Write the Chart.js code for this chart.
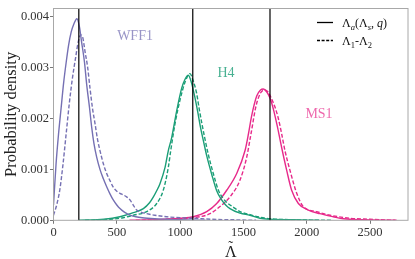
<!DOCTYPE html>
<html>
<head>
<meta charset="utf-8">
<script src="https://cdn.jsdelivr.net/npm/chart.js@4/dist/chart.umd.min.js"></script>
<style>
html,body{margin:0;padding:0;background:#fff;}
#wrap{width:415px;height:259px;position:relative;}
</style>
</head>
<body>
<div id="wrap"><canvas id="c" width="415" height="259"></canvas></div>
<script>
// ---- data ----
const xTicks = [0, 500, 1000, 1500, 2000, 2500];
const yTicks = [0, 0.001, 0.002, 0.003, 0.004];
const refLambda = [200, 1100, 1710];

const wff1SolidLambda  = [0, 20, 40, 60, 80, 100, 120, 140, 160, 185, 205, 222, 245, 262, 285, 302, 320, 341, 367, 393, 420, 446, 472, 500, 525, 560, 604, 650, 700, 800, 900, 1000, 1200];
const wff1SolidDensity = [0.0003, 0.0011, 0.0017, 0.0022, 0.0027, 0.0031, 0.00345, 0.0037, 0.00385, 0.00396, 0.0038, 0.0035, 0.0031, 0.00267, 0.0022, 0.00182, 0.0015, 0.00124, 0.001, 0.00082, 0.00066, 0.00052, 0.0004, 0.0003, 0.00023, 0.00016, 0.0001, 0.00007, 0.00005, 0.00003, 0.00002, 0.00001, 0];

const wff1DashLambda  = [0, 25, 50, 75, 100, 125, 150, 175, 195, 215, 230, 250, 270, 288, 308, 328, 347, 367, 395, 420, 446, 472, 500, 525, 550, 578, 604, 630, 657, 700, 736, 800, 894, 1000, 1104, 1250, 1420, 1600];
const wff1DashDensity = [0.0001, 0.0003, 0.0006, 0.0011, 0.0017, 0.0023, 0.0028, 0.0032, 0.0035, 0.00364, 0.0036, 0.0033, 0.003, 0.0026, 0.0022, 0.0019, 0.0016, 0.00137, 0.0011, 0.00092, 0.00078, 0.00065, 0.00057, 0.00053, 0.0005, 0.00046, 0.0004, 0.0003, 0.0002, 0.00015, 0.00013, 0.0001, 0.00007, 0.00005, 0.00004, 0.00002, 0.00001, 0];

const h4SolidLambda  = [200, 400, 525, 631, 710, 760, 789, 815, 841, 881, 907, 933, 973, 1013, 1039, 1065, 1090, 1118, 1140, 1160, 1185, 1210, 1250, 1289, 1328, 1360, 1394, 1473, 1552, 1631, 1710, 1900, 2100];
const h4SolidDensity = [0, 0.00002, 0.00007, 0.00015, 0.00023, 0.00035, 0.00046, 0.00058, 0.00072, 0.00104, 0.00137, 0.00162, 0.00215, 0.0026, 0.00277, 0.00285, 0.0027, 0.0024, 0.00212, 0.00184, 0.00155, 0.00127, 0.0009, 0.00058, 0.0004, 0.0003, 0.00023, 0.00014, 0.0001, 0.00004, 0.00002, 0.00001, 0];

const h4DashLambda  = [250, 450, 550, 631, 736, 815, 867, 907, 926, 960, 1000, 1040, 1078, 1102, 1130, 1150, 1172, 1196, 1222, 1262, 1301, 1340, 1374, 1420, 1473, 1552, 1631, 1710, 1900, 2200];
const h4DashDensity = [0, 0.00002, 0.00005, 0.0001, 0.00017, 0.00033, 0.00059, 0.00104, 0.00137, 0.0019, 0.00237, 0.00272, 0.00288, 0.00275, 0.0025, 0.0022, 0.0019, 0.0016, 0.0013, 0.00092, 0.0006, 0.00043, 0.00034, 0.00026, 0.00017, 0.00011, 0.00006, 0.00003, 0.00001, 0];

const ms1SolidLambda  = [600, 800, 1000, 1104, 1210, 1289, 1368, 1447, 1513, 1540, 1565, 1605, 1635, 1657, 1685, 1710, 1740, 1770, 1802, 1842, 1881, 1934, 2013, 2105, 2210, 2290, 2450, 2700];
const ms1SolidDensity = [0, 0.00001, 0.00004, 0.00007, 0.00017, 0.00033, 0.00059, 0.00092, 0.00137, 0.0017, 0.00205, 0.00244, 0.00256, 0.00258, 0.00252, 0.0024, 0.00215, 0.00182, 0.00143, 0.00098, 0.00059, 0.00033, 0.0002, 0.00013, 0.00007, 0.00003, 0.00001, 0];

const ms1DashLambda  = [650, 900, 1157, 1236, 1315, 1394, 1473, 1526, 1560, 1600, 1635, 1665, 1695, 1720, 1750, 1776, 1802, 1828, 1868, 1921, 1973, 2079, 2184, 2342, 2500, 2710];
const ms1DashDensity = [0, 0.00002, 0.00007, 0.00013, 0.00027, 0.00046, 0.00079, 0.00124, 0.0017, 0.00225, 0.0025, 0.00256, 0.00252, 0.0024, 0.00222, 0.002, 0.0017, 0.00137, 0.00098, 0.00053, 0.00027, 0.00017, 0.0001, 0.00004, 0.00002, 0];

// ---- styles ----
const PURPLE = '#7570b3', GREEN = '#1b9e77', PINK = '#e7298a';
const SERIF = '"Liberation Serif", "DejaVu Serif", serif';

function pts(xs, ys){ return xs.map((x,i)=>({x:x, y:ys[i]})); }
function ds(label, xs, ys, color, dashed){
  return {
    label: label, data: pts(xs, ys), borderColor: color, backgroundColor: color,
    borderWidth: 1.4, pointRadius: 0, fill: false, showLine: true,
    cubicInterpolationMode: 'monotone', borderDash: dashed ? [4, 2] : [],
    borderCapStyle: 'butt', borderJoinStyle: 'round'
  };
}

const textLabels = [
  {text:'WFF1', x:644, y:0.00361, color:'rgba(117,112,179,0.75)'},
  {text:'H4',   x:1362, y:0.00289, color:'rgba(27,158,119,0.8)'},
  {text:'MS1',  x:2097, y:0.00209, color:'rgba(231,41,138,0.7)'}
];

const overlay = {
  id: 'overlay',
  afterDatasetsDraw(chart){
    const {ctx, chartArea: a, scales: {x, y}} = chart;
    ctx.save();
    // reference vertical lines
    ctx.strokeStyle = '#000'; ctx.lineWidth = 1.2;
    refLambda.forEach(v => {
      const px = x.getPixelForValue(v);
      ctx.beginPath(); ctx.moveTo(px, a.top); ctx.lineTo(px, a.bottom); ctx.stroke();
    });
    // frame
    ctx.strokeStyle = '#a8a8a8'; ctx.lineWidth = 1;
    ctx.strokeRect(a.left, a.top, a.right - a.left, a.bottom - a.top);
    // EOS labels
    ctx.font = '14px ' + SERIF; ctx.textAlign = 'center'; ctx.textBaseline = 'middle';
    textLabels.forEach(l => {
      ctx.fillStyle = l.color;
      ctx.fillText(l.text, x.getPixelForValue(l.x), y.getPixelForValue(l.y));
    });
    // x-axis title: Lambda with tilde
    const cx0 = (a.left + a.right) / 2;
    ctx.fillStyle = '#222'; ctx.textAlign = 'center'; ctx.textBaseline = 'alphabetic';
    ctx.font = '16px ' + SERIF;
    ctx.fillText('Λ', cx0, 256.5);
    ctx.font = '15px ' + SERIF;
    ctx.fillText('˜', cx0, 250.5);
    // legend
    const lx0 = a.right - 91, lx1 = a.right - 75, tx = a.right - 66;
    const rows = [
      {y: a.top + 14, dash: [], parts: [['Λ','n',0],['a','i',3],['(Λ','n',0],['s','i',3],[', ','n',0],['q','i',0],[')','n',0]]},
      {y: a.top + 32, dash: [3, 1.6], parts: [['Λ','n',0],['1','n',3],['-Λ','n',0],['2','n',3]]}
    ];
    rows.forEach(r => {
      ctx.strokeStyle = '#000'; ctx.lineWidth = 1.3; ctx.setLineDash(r.dash);
      ctx.beginPath(); ctx.moveTo(lx0, r.y); ctx.lineTo(lx1, r.y); ctx.stroke();
      ctx.setLineDash([]);
      ctx.fillStyle = '#111'; ctx.textAlign = 'left'; ctx.textBaseline = 'alphabetic';
      let cx = tx;
      r.parts.forEach(p => {
        const sub = p[2] > 0;
        const size = sub ? 8.5 : 12;
        ctx.font = (p[1] === 'i' ? 'italic ' : '') + size + 'px ' + SERIF;
        ctx.fillText(p[0], cx, r.y + 4 + p[2]);
        cx += ctx.measureText(p[0]).width;
      });
    });
    ctx.restore();
  }
};

new Chart(document.getElementById('c'), {
  type: 'scatter',
  data: {
    datasets: [
      ds('WFF1 Λa', wff1SolidLambda, wff1SolidDensity, PURPLE, false),
      ds('WFF1 Λ1-Λ2', wff1DashLambda, wff1DashDensity, PURPLE, true),
      ds('H4 Λa', h4SolidLambda, h4SolidDensity, GREEN, false),
      ds('H4 Λ1-Λ2', h4DashLambda, h4DashDensity, GREEN, true),
      ds('MS1 Λa', ms1SolidLambda, ms1SolidDensity, PINK, false),
      ds('MS1 Λ1-Λ2', ms1DashLambda, ms1DashDensity, PINK, true)
    ]
  },
  options: {
    responsive: false, animation: false, devicePixelRatio: 1,
    layout: {padding: {top: 7, right: 7, left: 0, bottom: 0}},
    plugins: {legend: {display: false}, tooltip: {enabled: false}},
    scales: {
      x: {
        type: 'linear', min: 0, max: 2800,
        afterBuildTicks: s => { s.ticks = xTicks.map(v => ({value: v})); },
        afterFit: s => { s.height = 38.7; },
        grid: {drawOnChartArea: false, drawTicks: true, tickLength: 3.5, color: '#555', lineWidth: 0.8},
        border: {display: false},
        ticks: {color: '#333', padding: 1, maxRotation: 0, font: {family: SERIF, size: 12.5}, callback: v => String(v)},
        title: {display: false}
      },
      y: {
        type: 'linear', min: 0, max: 0.00416,
        afterBuildTicks: s => { s.ticks = yTicks.map(v => ({value: v})); },
        afterFit: s => { s.width = 53.5; },
        grid: {drawOnChartArea: false, drawTicks: true, tickLength: 3.5, color: '#555', lineWidth: 0.8},
        border: {display: false},
        ticks: {color: '#333', padding: 1, font: {family: SERIF, size: 12.5}, callback: v => v.toFixed(3)},
        title: {display: true, text: 'Probability density', color: '#222', font: {family: SERIF, size: 16.5}, padding: {top: 1.5, bottom: 0}}
      }
    }
  },
  plugins: [overlay]
});
</script>
</body>
</html>
